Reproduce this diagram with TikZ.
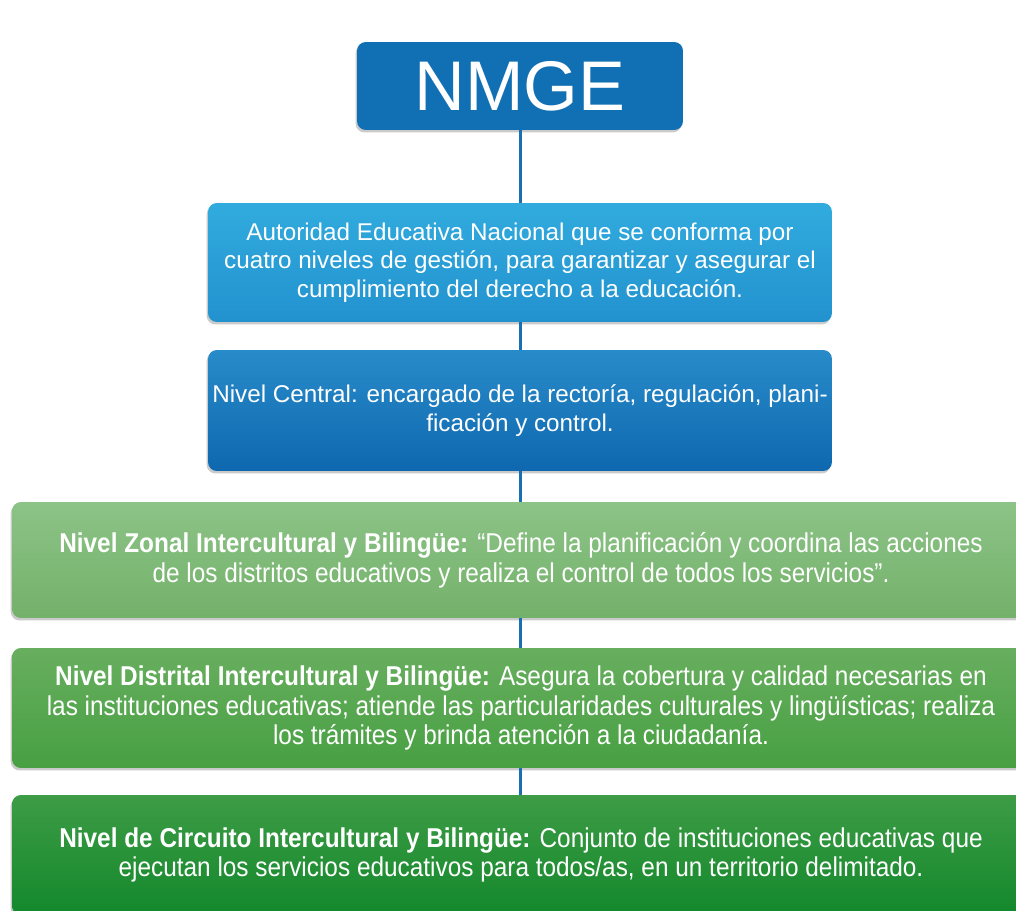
\documentclass[tikz,border=0pt]{standalone}
\usepackage{fontspec}
\setmainfont{Liberation Sans}
\newfontfamily\narrowfont[FakeStretch=0.895]{Liberation Sans}
\usetikzlibrary{shadows, positioning}
\definecolor{nmgeblue}{HTML}{1170B3}
\definecolor{skytop}{HTML}{31ABDE}
\definecolor{skybot}{HTML}{2292CF}
\definecolor{centraltop}{HTML}{288BC9}
\definecolor{centralbot}{HTML}{0F68AF}
\definecolor{zonaltop}{HTML}{8CC387}
\definecolor{zonalbot}{HTML}{74B16A}
\definecolor{distrtop}{HTML}{68AE5F}
\definecolor{distrbot}{HTML}{47A042}
\definecolor{circtop}{HTML}{3D9C45}
\definecolor{circbot}{HTML}{13882C}
\definecolor{linkblue}{HTML}{1A6FB0}
\tikzset{levelbox/.style={rounded corners=5pt, align=center, text=white, inner sep=0pt,
    drop shadow={shadow xshift=-0.8pt, shadow yshift=-1.4pt, opacity=0.35, fill=black!60}}}
\tikzset{bluebox/.style={levelbox, font=\fontsize{13.8}{16.2}\selectfont}}
\tikzset{greenbox/.style={levelbox, font=\narrowfont\fontsize{15.5}{17}\selectfont}}
\tikzset{link/.style={draw=linkblue, line width=1.7pt}}

\begin{document}
\begin{tikzpicture}[x=0.02cm, y=-0.02cm]
    \useasboundingbox (0,0) rectangle (1016,911);
    \clip (0,0) rectangle (1016,911);

    \node[levelbox, fill=nmgeblue, minimum width=6.52cm, minimum height=1.76cm,
          font=\fontsize{40}{48}\selectfont] (Nnmge) at (520,86) {NMGE};
    \node[bluebox, top color=skytop, bottom color=skybot, minimum width=12.48cm, minimum height=2.38cm]
        (Nauth) at (520,262.5) {Autoridad Educativa Nacional que se conforma por\\
        cuatro niveles de gestión, para garantizar y asegurar el\\
        cumplimiento del derecho a la educación.};
    \node[bluebox, top color=centraltop, bottom color=centralbot, minimum width=12.48cm, minimum height=2.42cm]
        (Ncentral) at (520,410.5) {Nivel Central: encargado de la rectoría, regulación, plani-\\
        ficación y control.};
    \node[greenbox, top color=zonaltop, bottom color=zonalbot, minimum width=20.36cm, minimum height=2.32cm]
        (Nzonal) at (521,560) {\textbf{Nivel Zonal Intercultural y Bilingüe:} “Define la planificación y coordina las acciones\\
        de los distritos educativos y realiza el control de todos los servicios”.};
    \node[greenbox, top color=distrtop, bottom color=distrbot, minimum width=20.36cm, minimum height=2.4cm]
        (Ndistrital) at (521,708) {\textbf{Nivel Distrital Intercultural y Bilingüe:} Asegura la cobertura y calidad necesarias en\\
        las instituciones educativas; atiende las particularidades culturales y lingüísticas; realiza\\
        los trámites y brinda atención a la ciudadanía.};
    \node[greenbox, top color=circtop, bottom color=circbot, minimum width=20.36cm, minimum height=2.4cm]
        (Ncircuito) at (521,855) {\textbf{Nivel de Circuito Intercultural y Bilingüe:} Conjunto de instituciones educativas que\\
        ejecutan los servicios educativos para todos/as, en un territorio delimitado.};

    \draw[link] (Nnmge) -- (Nauth);
    \draw[link] (Nauth) -- (Ncentral);
    \draw[link] (Ncentral) -- (Nzonal.north -| Ncentral.south);
    \draw[link] (Nzonal.south -| Ncentral.south) -- (Ndistrital.north -| Ncentral.south);
    \draw[link] (Ndistrital.south -| Ncentral.south) -- (Ncircuito.north -| Ncentral.south);
\end{tikzpicture}
\end{document}
